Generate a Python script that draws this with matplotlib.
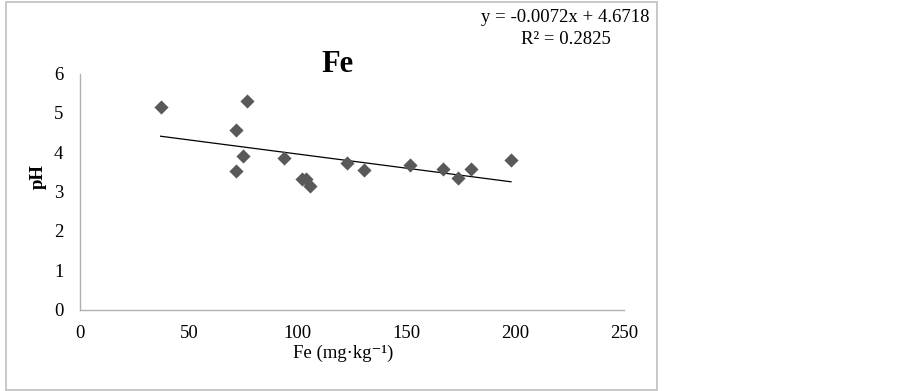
import matplotlib
matplotlib.use("Agg")
import matplotlib.pyplot as plt
from matplotlib.patches import Rectangle

# values
fe = [37.0, 76.7, 71.6, 74.7, 71.6, 93.8, 101.8, 103.8, 105.6,
      122.4, 130.4, 151.6, 166.8, 173.6, 179.5, 197.9]
ph = [5.16, 5.31, 4.57, 3.91, 3.53, 3.86, 3.31, 3.32, 3.14,
      3.72, 3.55, 3.68, 3.58, 3.35, 3.58, 3.80]
slope, intercept = -0.0072, 4.6718
r2 = 0.2825
xticks = [0, 50, 100, 150, 200, 250]
yticks = [0, 1, 2, 3, 4, 5, 6]

plt.rcParams["font.family"] = ["Liberation Serif", "DejaVu Serif"]

fig = plt.figure(figsize=(9.03, 3.91), dpi=100)
ax = fig.add_axes([80 / 903, 81.5 / 391, 544.5 / 903, 236 / 391])

ax.scatter(fe, ph, marker="D", s=52, color="#595959", zorder=3, linewidths=0)
x0, x1 = min(fe), max(fe)
ax.plot([x0, x1], [slope * x0 + intercept, slope * x1 + intercept],
        color="black", lw=0.9, zorder=2)

ax.set_xlim(0, 250); ax.set_ylim(0, 6)
ax.set_xticks(xticks); ax.set_yticks(yticks)
ax.tick_params(length=0, labelsize=13.5)
ax.tick_params(axis="x", pad=11)
ax.tick_params(axis="y", pad=12)
for s in ("top", "right"):
    ax.spines[s].set_visible(False)
for s in ("left", "bottom"):
    ax.spines[s].set_color("#b0b0b0"); ax.spines[s].set_linewidth(1)

fig.text(343 / 903, 1 - 353 / 391, "Fe (mg·kg⁻¹)", ha="center", va="center",
         fontsize=13.5)
fig.text(38 / 903, 1 - 177 / 391, "pH", rotation=90, ha="center", va="center",
         fontsize=13.5, fontweight="bold")
fig.text(338 / 903, 1 - 64 / 391, "Fe", ha="center", va="center",
         fontsize=22, fontweight="bold")
fig.text(565 / 903, 1 - 18 / 391, f"y = {slope}x + {intercept}", ha="center",
         va="center", fontsize=13.5)
fig.text(566 / 903, 1 - 40 / 391, f"R² = {r2}", ha="center", va="center",
         fontsize=13.5)

# chart-area border
fig.patches.append(Rectangle((6 / 903, 1 / 391), 651 / 903, 388 / 391,
                             transform=fig.transFigure, fill=False,
                             edgecolor="#c4c4c4", lw=1.3))

fig.savefig("out.png", dpi=100)
